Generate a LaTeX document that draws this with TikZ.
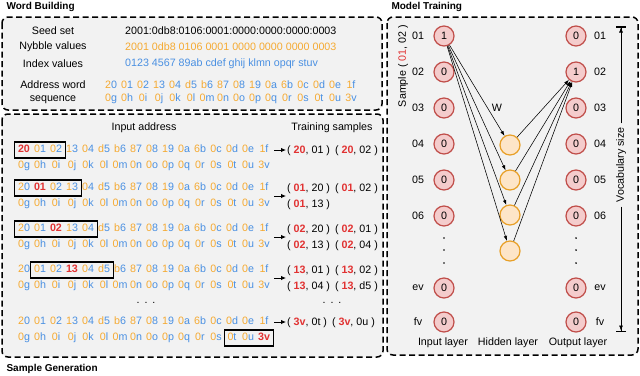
\documentclass[tikz,border=0pt]{standalone}
\usepackage{fontspec}
\setmainfont{Liberation Sans}
\usepackage{xcolor}
\definecolor{nyb}{RGB}{245,170,50}
\definecolor{idx}{RGB}{74,144,226}
\definecolor{hot}{RGB}{225,50,50}
\definecolor{panelgray}{RGB}{242,242,242}
\definecolor{unitpink}{RGB}{244,204,204}
\definecolor{unitred}{RGB}{192,78,74}
\definecolor{hidfill}{RGB}{253,229,200}
\definecolor{hiddraw}{RGB}{232,160,40}
\usetikzlibrary{arrows.meta,fit}

\newcommand{\basefont}{\fontsize{10.7}{13}\selectfont}
\newcommand{\hot}[1]{\textcolor{hot}{\textbf{#1}}}
\newcommand{\firstwords}{2/0,0/1,0/2,1/3,0/4,d/5,b/6,8/7,0/8,1/9,0/a,6/b,0/c,0/d,0/e,1/f}
\newcommand{\secondwords}{0/g,0/h,0/i,0/j,0/k,0/l,0/m,0/n,0/o,0/p,0/q,0/r,0/s,0/t,0/u,3/v}
% one line of address words: name, x, y, red word (-1 = none), list
\newcommand{\wordrow}[5]{%
    \foreach \n/\i [count=\k from 0] in #5 {
        \ifnum\k=#4
            \node[word, text=hot, font={\basefont\bfseries}] (#1\k) at (#2+16*\k, #3) {\n\i};
        \else
            \node[word] (#1\k) at (#2+16*\k, #3) {\textcolor{nyb}{\n}\textcolor{idx}{\i}};
        \fi
    }
}
\newcommand{\pairs}[1]{{\fontsize{10.7}{16}\selectfont\begin{tabular}{@{}l@{\hspace{5pt}}l@{}}#1\end{tabular}}}

\begin{document}
\begin{tikzpicture}[x=1pt, y=-1pt,
    every node/.style={font=\basefont},
    panel/.style={draw, line width=1.5pt, dash pattern=on 6pt off 3.5pt, fill=panelgray, rounded corners=6pt},
    title/.style={anchor=west, font=\fontsize{10}{12}\selectfont\bfseries},
    word/.style={inner sep=0pt, text height=7.6pt, text depth=2pt},
    window/.style={draw, line width=1.2pt, inner sep=3pt},
    feed/.style={-{Latex[length=5pt,width=4.5pt]}, line width=0.9pt},
    unit/.style={circle, draw=unitred, fill=unitpink, line width=1.2pt, minimum size=20pt, inner sep=0pt},
    hid/.style={circle, draw=hiddraw, fill=hidfill, line width=1.2pt, minimum size=20pt, inner sep=0pt},
    link/.style={-{Latex[length=5pt,width=3.5pt]}, line width=0.55pt},
    span/.style={-{Latex[length=5pt,width=4pt]Bar[width=10pt,line width=1.5pt]}, line width=0.6pt},
    vdot/.style={circle, fill, inner sep=0.7pt}]
    \useasboundingbox (0,0) rectangle (640,375);

    % Panels
    \draw[panel] (2,17) rectangle (382,110);
    \draw[panel] (2,114) rectangle (383,357);
    \draw[panel] (387,17) rectangle (638,355);
    \node[title] (tword) at (3,7) {Word Building};
    \node[title] (tsample) at (3,369) {Sample Generation};
    \node[title] (tmodel) at (388,7) {Model Training};

    % Word building
    \node (seedl) at (53,31) {Seed set};
    \node (nybl) at (53,47) {Nybble values};
    \node (idxl) at (53,64) {Index values};
    \node[align=center] (addrl) at (53,92.5) {Address word\\sequence};
    \node[anchor=west, inner sep=0pt] (seedv) at (125,31) {2001:0db8:0106:0001:0000:0000:0000:0003};
    \node[anchor=west, inner sep=0pt, text=nyb] (nybv) at (125,47) {2001 0db8 0106 0001 0000 0000 0000 0003};
    \node[anchor=west, inner sep=0pt, text=idx] (idxv) at (125,64) {0123 4567 89ab cdef ghij klmn opqr stuv};
    \wordrow{wt}{111}{86}{-1}{\firstwords}
    \wordrow{wb}{111}{99}{-1}{\secondwords}

    % Sample generation
    \node (inaddr) at (144,128) {Input address};
    \node (trsamp) at (332,128) {Training samples};

    \wordrow{r1t}{24}{150}{0}{\firstwords}
    \wordrow{r1b}{24}{166}{-1}{\secondwords}
    \wordrow{r2t}{24}{188}{1}{\firstwords}
    \wordrow{r2b}{24}{204}{-1}{\secondwords}
    \wordrow{r3t}{24}{229}{2}{\firstwords}
    \wordrow{r3b}{24}{245}{-1}{\secondwords}
    \wordrow{r4t}{24}{270}{3}{\firstwords}
    \wordrow{r4b}{24}{286}{-1}{\secondwords}
    \wordrow{r5t}{24}{322}{-1}{\firstwords}
    \wordrow{r5b}{24}{338}{15}{\secondwords}

    \node[window, fit=(r1t0)(r1t2)] (win1) {};
    \node[window, fit=(r2t0)(r2t3)] (win2) {};
    \node[window, fit=(r3t0)(r3t4)] (win3) {};
    \node[window, fit=(r4t1)(r4t5)] (win4) {};
    \node[window, fit=(r5b13)(r5b15)] (win5) {};

    \node (dotsa) at (146,303) {.\hspace{5pt}.\hspace{5pt}.};
    \node (dotsb) at (332,303) {.\hspace{5pt}.\hspace{5pt}.};

    \node[anchor=west, inner sep=1pt] (s1) at (286,150) {\pairs{( \hot{20}, 01 ) & ( \hot{20}, 02 )}};
    \node[anchor=west, inner sep=1pt] (s2) at (286,196) {\pairs{( \hot{01}, 20 ) & ( \hot{01}, 02 )\\( \hot{01}, 13 ) &}};
    \node[anchor=west, inner sep=1pt] (s3) at (286,237) {\pairs{( \hot{02}, 20 ) & ( \hot{02}, 01 )\\( \hot{02}, 13 ) & ( \hot{02}, 04 )}};
    \node[anchor=west, inner sep=1pt] (s4) at (286,278) {\pairs{( \hot{13}, 01 ) & ( \hot{13}, 02 )\\( \hot{13}, 04 ) & ( \hot{13}, d5 )}};
    \node[anchor=west, inner sep=1pt] (s5) at (286,322) {\pairs{( \hot{3v}, 0t ) & ( \hot{3v}, 0u )}};

    \foreach \r/\y in {1/150,2/196,3/237,4/278,5/322} {
        \coordinate (e\r) at (274,\y);
        \draw[feed] (e\r) -- (s\r);
    }

    % Input layer
    \foreach \lab/\y/\v [count=\k] in {01/36/1,02/72/0,03/108/0,04/144/0,05/180/0,06/216/0,ev/288/0,fv/322/0} {
        \node[unit] (in\k) at (444,\y) {\v};
        \node (inl\k) at (418,\y) {\lab};
    }
    % Output layer
    \foreach \lab/\y/\v [count=\k] in {01/36/0,02/72/1,03/108/0,04/144/0,05/180/0,06/216/0,ev/288/0,fv/322/0} {
        \node[unit] (o\k) at (576,\y) {\v};
        \node (ol\k) at (600,\y) {\lab};
    }
    \foreach \y [count=\k] in {238,250,263} {
        \node[vdot] (ind\k) at (444,\y) {};
        \node[vdot] (outd\k) at (576,\y) {};
    }
    % Hidden layer
    \foreach \y [count=\k] in {145,180,215,251} {
        \node[hid] (h\k) at (510,\y) {};
    }

    % Connections
    \foreach \j in {1,...,4} {
        \draw[link] (in1) -- (h\j);
        \draw[link] (h\j) -- (o2);
    }
    \node (wlab) at (497,108) {W};

    \node[rotate=90] (samplab) at (403,66) {Sample ( \textcolor{hot}{01}, 02 )};
    \node (inlay) at (443,343) {Input layer};
    \node (hidlay) at (508,343) {Hidden layer};
    \node (outlay) at (578,343) {Output layer};

    % Vocabulary size
    \node[rotate=90, inner sep=4pt] (vocab) at (621,165) {Vocabulary size};
    \coordinate (vtop) at (621,26);
    \coordinate (vbot) at (621,332);
    \draw[span] (vocab.east) -- (vtop);
    \draw[span] (vocab.west) -- (vbot);
\end{tikzpicture}
\end{document}
